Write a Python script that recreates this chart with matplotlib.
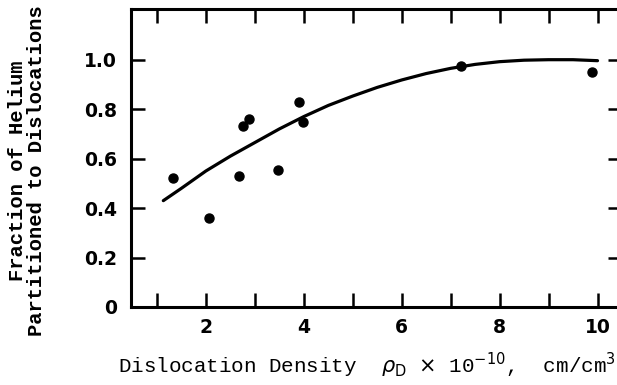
import matplotlib
matplotlib.use("Agg")
import matplotlib.pyplot as plt
import numpy as np

# data points (dislocation density x1e-10, fraction)
pts_x = [1.32, 2.07, 2.67, 2.75, 2.88, 3.48, 3.90, 3.99, 7.22, 9.88]
pts_y = [0.52, 0.36, 0.53, 0.73, 0.76, 0.555, 0.83, 0.75, 0.975, 0.95]

# fitted curve
curve_x = [1.13, 1.5, 2.0, 2.5, 3.0, 3.5, 4.0, 4.5, 5.0, 5.5, 6.0, 6.5, 7.0, 7.5, 8.0, 8.5, 9.0, 9.5, 10.0]
curve_y = [0.43, 0.48, 0.55, 0.61, 0.665, 0.72, 0.77, 0.815, 0.853, 0.888, 0.918, 0.944, 0.965, 0.981, 0.992, 0.998, 1.0, 1.0, 0.996]

xtick_vals = [1, 2, 3, 4, 5, 6, 7, 8, 9, 10]
xtick_labels = ["", "2", "", "4", "", "6", "", "8", "", "10"]
ytick_vals = [0, 0.2, 0.4, 0.6, 0.8, 1.0]
ytick_labels = ["0", "0.2", "0.4", "0.6", "0.8", "1.0"]

fig = plt.figure(figsize=(6.17, 3.85), dpi=100)
ax = fig.add_axes([131/617, 1-307/385, (622-131)/617, (307-9)/385])

ax.plot(curve_x, curve_y, color="black", lw=2.3, solid_capstyle="round")
ax.plot(pts_x, pts_y, "o", color="black", ms=6.5, mec="black")

ax.set_xlim(0.47, 10.5)
ax.set_ylim(0, 1.205)

for s in ax.spines.values():
    s.set_linewidth(2.2)

ax.set_xticks(xtick_vals)
ax.set_xticklabels(xtick_labels, fontsize=13.5, fontweight="bold", family="DejaVu Sans")
ax.set_yticks(ytick_vals)
ax.set_yticklabels(ytick_labels, fontsize=13.5, fontweight="bold", family="DejaVu Sans")
ax.tick_params(axis="x", direction="in", length=10, width=1.8, top=True, pad=8)
ax.tick_params(axis="y", direction="in", length=10, width=1.8, right=True, pad=10)

mono = "Liberation Mono"
fig.text(118/617, 1-365/385, r"Dislocation Density  $\rho_\mathrm{D}$ $\times$ 10$^{-10}$,  cm/cm$^3$",
         fontsize=15, family=mono, ha="left", va="center")
fig.text(27/617, 1-171/385, "Fraction of Helium\nPartitioned to Dislocations",
         fontsize=14.8, family=mono, rotation=90, ha="center", va="center",
         multialignment="center", fontweight="bold", linespacing=1.0)

fig.savefig("out.png", dpi=100)
